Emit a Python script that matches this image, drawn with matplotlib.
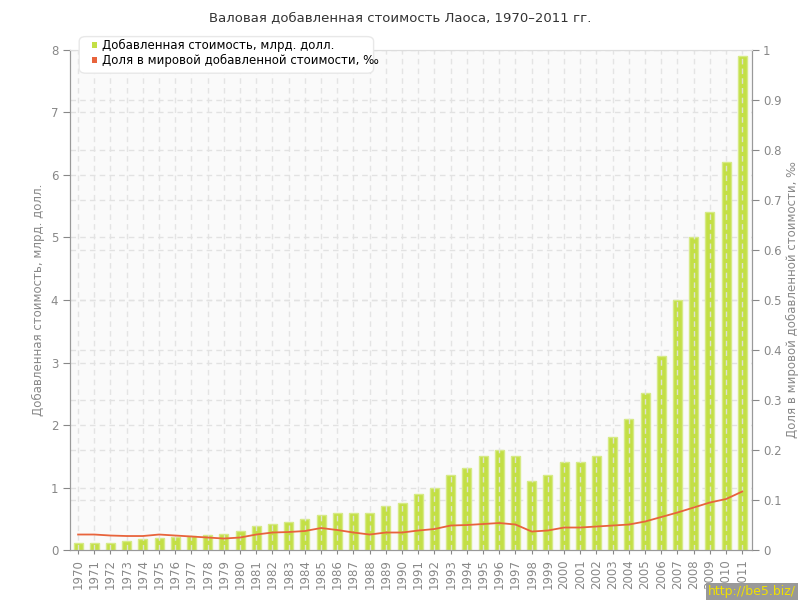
import matplotlib.pyplot as plt
from matplotlib.patches import FancyBboxPatch

years = list(range(1970, 2012))

# добавленная стоимость, млрд. долл.
value_bn = [0.11, 0.11, 0.12, 0.15, 0.17, 0.20, 0.21, 0.22, 0.24, 0.25,
            0.30, 0.38, 0.42, 0.45, 0.49, 0.56, 0.59, 0.59, 0.59, 0.70,
            0.76, 0.90, 1.00, 1.20, 1.31, 1.50, 1.60, 1.50, 1.11, 1.20,
            1.41, 1.41, 1.50, 1.81, 2.10, 2.51, 3.10, 4.00, 5.00, 5.40,
            6.20, 7.91]

# доля в мировой добавленной стоимости, промилле
share = [0.031, 0.031, 0.029, 0.028, 0.028, 0.031, 0.029, 0.027, 0.025, 0.023,
         0.025, 0.031, 0.035, 0.036, 0.038, 0.044, 0.040, 0.035, 0.031, 0.035,
         0.035, 0.039, 0.042, 0.049, 0.050, 0.052, 0.054, 0.051, 0.037, 0.039,
         0.045, 0.045, 0.047, 0.049, 0.051, 0.057, 0.066, 0.075, 0.085, 0.095,
         0.102, 0.117]

title = "Валовая добавленная стоимость Лаоса, 1970–2011 гг."
label_left = "Добавленная стоимость, млрд. долл."
label_right = "Доля в мировой добавленной стоимости, ‰"

gray = "#888888"
grid_c = "#e2e2e2"
bar_c = "#c3df45"
line_c = "#e8643c"

plt.rcParams["font.family"] = "DejaVu Sans"

fig = plt.figure(figsize=(8, 6), dpi=100)
ax = fig.add_axes([0.0875, 0.0833, 0.8525, 0.8334])
ax.set_facecolor("#fafafa")
ax2 = ax.twinx()

x = list(range(len(years)))
ax.bar(x, value_bn, width=0.55, color=bar_c, edgecolor="#d6ea86", linewidth=1, zorder=2)
ax.set_xlim(-0.5, len(years) - 0.4)
ax.set_ylim(0, 8)
ax.set_yticks(range(0, 9))

for xi in x:
    ax.axvline(xi, color=grid_c, lw=1, ls=(0, (4, 3)), zorder=3, alpha=0.9)
for yi in range(1, 9):
    ax.axhline(yi, color=grid_c, lw=1, ls=(0, (4, 3)), zorder=1)
for yi in [i / 10 for i in range(1, 10)]:
    ax.axhline(yi * 8, color=grid_c, lw=1, ls=(0, (4, 3)), zorder=1)

ax2.plot(x, share, color=line_c, lw=1.3, zorder=4)
ax2.set_ylim(0, 1)
ax2.set_yticks([i / 10 for i in range(0, 11)])
ax2.set_yticklabels(["0"] + ["%.1f" % (i / 10) for i in range(1, 10)] + ["1"])

ax.set_xticks(x)
ax.set_xticklabels([str(y) for y in years], rotation=90, fontsize=8.5, color=gray)
ax.tick_params(axis="y", colors=gray, labelsize=8.5, length=5, direction="out")
ax.tick_params(axis="x", colors=gray, length=3, direction="out")
ax2.tick_params(axis="y", colors=gray, labelsize=8.5, length=5, direction="out", pad=3)

for a in (ax, ax2):
    for s in ["left", "bottom", "right"]:
        a.spines[s].set_color("#999999")
    a.spines["top"].set_color("#dddddd")

ax.set_ylabel(label_left, color=gray, fontsize=8.5, labelpad=4)
ax2.set_ylabel(label_right, color=gray, fontsize=8.5, rotation=90, labelpad=3)

fig.text(0.5, 0.97, title, ha="center", va="center", fontsize=9.5, color="#333333")

# legend box
leg = FancyBboxPatch((0.103, 0.882), 0.36, 0.053, boxstyle="round,pad=0.004,rounding_size=0.008",
                     transform=fig.transFigure, facecolor="white", edgecolor="#e8e8e8",
                     lw=1, zorder=10)
fig.patches.append(leg)
fig.patches.append(FancyBboxPatch((0.1145, 0.9205), 0.007, 0.009, boxstyle="square,pad=0",
                                  transform=fig.transFigure, facecolor=bar_c, edgecolor="none", zorder=11))
fig.patches.append(FancyBboxPatch((0.1145, 0.8955), 0.007, 0.009, boxstyle="square,pad=0",
                                  transform=fig.transFigure, facecolor=line_c, edgecolor="none", zorder=11))
fig.text(0.128, 0.925, "Добавленная стоимость, млрд. долл.", fontsize=8.5, va="center", zorder=12)
fig.text(0.128, 0.9, "Доля в мировой добавленной стоимости, ‰", fontsize=8.5, va="center", zorder=12)

fig.text(0.995, 0.003, "http://be5.biz/", ha="right", va="bottom", fontsize=9, color="#f0e000",
         bbox=dict(facecolor="#999999", edgecolor="none", pad=1.5))

fig.savefig("out.png", dpi=100)
